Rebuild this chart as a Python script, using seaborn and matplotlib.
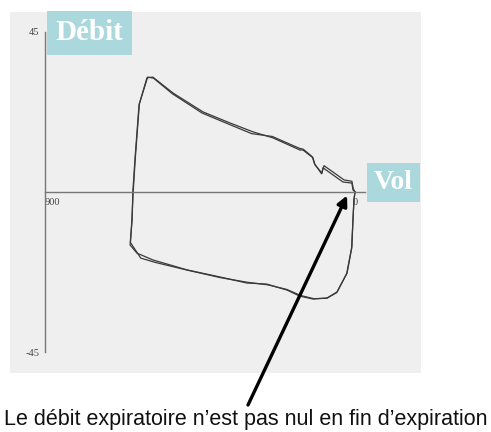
import matplotlib
matplotlib.use("Agg")
import matplotlib.pyplot as plt
import seaborn as sns
import pandas as pd

# flow-volume loop (two overlapping breaths)
vol_1 = [0, 6, 9, 35, 93, 96, 116, 122, 151, 160, 238, 296, 363, 441, 528, 587, 604,
         627, 639, 645, 647, 653, 633, 587, 488, 392, 314, 256, 197, 160, 122, 81, 52,
         23, 9, 6, 3, 0]
flow_1 = [0, 0.6, 2.5, 2.8, 6.8, 5.3, 7.6, 9.6, 11.8, 11.8, 15.2, 16.9, 19.4, 22.5, 27.8,
          32.3, 32.1, 24.5, 9.0, 0, -7.9, -14.9, -17.2, -19.1, -21.9, -23.9, -25.6, -25.9,
          -27.6, -29.3, -30.1, -29.8, -28.1, -22.8, -15.5, -7.9, -2.3, 0]
vol_2 = [0, 5, 9, 32, 90, 97, 118, 124, 150, 162, 240, 300, 365, 444, 530, 585, 602,
         626, 638, 644, 648, 652, 622, 580, 486, 390, 312, 254, 198, 158, 120, 82, 53,
         24, 10, 6, 3, 0]
flow_2 = [0, 0.9, 3.0, 3.4, 7.4, 5.1, 8.0, 9.9, 12.0, 12.3, 15.6, 16.4, 19.0, 22.2, 27.6,
          32.0, 32.3, 24.8, 9.2, 0, -8.1, -14.2, -18.6, -19.8, -22.0, -24.1, -25.4, -26.1,
          -27.4, -29.1, -30.0, -29.9, -28.3, -22.9, -15.8, -8.1, -2.1, 0]

y_ticks = [-45, -22.5, 22.5, 45]
y_tick_labels = ["-45", "", "", "45"]
x_ticks = [900, 450, 0]
x_tick_labels = ["900", "", "0"]

df = pd.concat([
    pd.DataFrame({"vol": vol_1, "flow": flow_1, "cycle": "1", "order": range(len(vol_1))}),
    pd.DataFrame({"vol": vol_2, "flow": flow_2, "cycle": "2", "order": range(len(vol_2))}),
])

sns.set_style("white")
plt.rcParams["font.family"] = ["DejaVu Sans"]

fig = plt.figure(figsize=(4.91, 4.32), dpi=100)
ax = fig.add_axes([10 / 491, 59 / 432, 411 / 491, 361 / 432])
ax.set_facecolor("#efefef")

sns.lineplot(data=df, x="vol", y="flow", units="cycle", estimator=None, sort=False,
             color="#3a3a3a", linewidth=0.9, ax=ax)

ax.set_xlim(1001.6, -191.6)
ax.set_ylim(-50.9, 50.6)

for s in ["top", "right"]:
    ax.spines[s].set_visible(False)
ax.spines["left"].set_position(("data", 900))
ax.spines["left"].set_bounds(-45, 45)
ax.spines["bottom"].set_position(("data", 0))
ax.spines["bottom"].set_bounds(-30, 900)
for s in ["left", "bottom"]:
    ax.spines[s].set_color("#777777")
    ax.spines[s].set_linewidth(1.0)

ax.set_yticks(y_ticks)
ax.set_yticklabels(y_tick_labels, family="Liberation Serif", fontsize=7.5, color="#444444")
ax.set_xticks(x_ticks)
ax.set_xticklabels(x_tick_labels, family="Liberation Serif", fontsize=7.5, color="#444444")
ax.tick_params(axis="both", direction="inout", length=4, width=0.8, color="#777777", pad=2)
ax.xaxis.get_ticklabels()[0].set_horizontalalignment("left")
ax.set_xlabel("")
ax.set_ylabel("")

box = dict(boxstyle="square,pad=0.3", facecolor="#aad8dc", edgecolor="none")
fig.text(89.5 / 491, 1 - 33 / 432, "Débit", ha="center", va="center", color="white",
         family="Liberation Serif", weight="bold", fontsize=21, bbox=box)
fig.text(393.5 / 491, 1 - 182.5 / 432, "Vol", ha="center", va="center", color="white",
         family="Liberation Serif", weight="bold", fontsize=20,
         bbox=dict(boxstyle="square,pad=0.25", facecolor="#aad8dc", edgecolor="none"))

ax.annotate("", xy=(23, -1), xycoords="data",
            xytext=(248 / 491, 1 - 405 / 432), textcoords="figure fraction",
            arrowprops=dict(arrowstyle="-|>,head_length=0.6,head_width=0.3",
                            color="black", lw=2.4, shrinkA=0, shrinkB=0))
fig.text(0.5, 1 - 420 / 432, "Le débit expiratoire n\u2019est pas nul en fin d\u2019expiration",
         ha="center", va="center", family="Liberation Sans", fontsize=15.5, color="#111111")

fig.savefig("out.png", dpi=100)
